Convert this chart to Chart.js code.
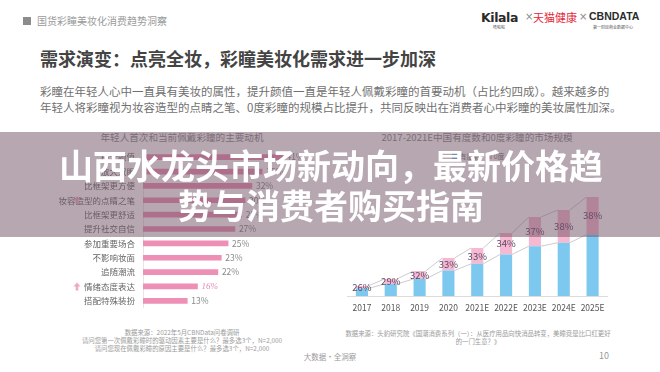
<!DOCTYPE html>
<html>
<head>
<meta charset="utf-8">
<script src="https://cdn.jsdelivr.net/npm/chart.js@4.4.1/dist/chart.umd.min.js"></script>
<style>
  html, body { margin: 0; padding: 0; background: #fff; }
  body { width: 660px; height: 372px; position: relative; overflow: hidden;
         font-family: "Noto Sans CJK SC", "Noto Sans", sans-serif; }
  .abs { position: absolute; white-space: nowrap; }
  #leftWrap { position: absolute; left: 0; top: 150px; width: 320px; height: 158px; }
  #rightWrap { position: absolute; left: 340px; top: 186px; width: 280px; height: 130px; }
  .note { color: #9a9a9a; font-size: 6.4px; line-height: 8px; text-align: center; }
  .times { color: #8a8a8a; font-size: 10px; line-height: 12px; font-family: "DejaVu Sans"; }
  #band { position: absolute; left: 0; top: 132px; width: 660px; height: 105px;
          background: rgba(110, 80, 100, 0.5); }
  #headline { position: absolute; left: 0; top: 145px; width: 662px; text-align: center;
              color: #fff; font-weight: 700; font-size: 34px; line-height: 40px; }
</style>
</head>
<body>

<!-- header -->
<div class="abs" style="left:23px;top:17px;width:8px;height:8px;background:#8c8c8c;"></div>
<div class="abs" style="left:37px;top:14px;font-size:10px;line-height:14px;color:#9a9a9a;">国货彩瞳美妆化消费趋势洞察</div>

<div class="abs" style="left:481px;top:10px;font-size:12.5px;line-height:15px;font-weight:700;color:#2b2b2b;font-family:'DejaVu Sans';letter-spacing:-0.4px;">Kilala</div>
<div class="abs" style="left:493px;top:25px;font-size:4px;line-height:5px;color:#555;">哈啦啦</div>
<div class="abs times" style="left:525px;top:11px;">×</div>
<div class="abs" style="left:533px;top:10px;font-size:11px;line-height:15px;color:#e5283a;">天猫健康</div>
<div class="abs times" style="left:579px;top:11px;">×</div>
<div class="abs" style="left:589px;top:10px;font-size:10.5px;line-height:13px;font-weight:700;color:#2b2b2b;font-family:'Liberation Sans';">CBNDATA</div>
<div class="abs" style="left:593px;top:25px;font-size:4px;line-height:5px;color:#555;">第一财经商业数据中心</div>

<!-- section title + text -->
<div class="abs" style="left:40px;top:47px;font-size:18px;line-height:23px;font-weight:700;color:#444;">需求演变：点亮全妆，彩瞳美妆化需求进一步加深</div>
<div class="abs" style="left:40px;top:84px;font-size:11.5px;line-height:15.5px;color:#707070;">彩瞳在年轻人心中一直具有美妆的属性，提升颜值一直是年轻人佩戴彩瞳的首要动机（占比约四成）。越来越多的<br>年轻人将彩瞳视为妆容造型的点睛之笔、0度彩瞳的规模占比提升，共同反映出在消费者心中彩瞳的美妆属性加深。</div>

<!-- chart titles -->
<div class="abs" style="left:100px;top:131px;width:164px;text-align:center;font-size:9.6px;line-height:13px;color:#8a8a8a;">年轻人首次和当前佩戴彩瞳的主要动机</div>
<div class="abs" style="left:377px;top:131px;width:200px;text-align:center;font-size:9.6px;line-height:13px;color:#8a8a8a;">2017-2021E中国有度数和0度彩瞳的市场规模</div>
<div class="abs" style="left:452px;top:151px;font-size:7px;line-height:10px;color:#777;">
  <span style="display:inline-block;width:6px;height:6px;background:#7cc8ee;"></span> 有度数
  <span style="display:inline-block;width:6px;height:6px;background:#f5b9d1;margin-left:4px;"></span> 0度
</div>

<div id="leftWrap"><canvas id="motiveChart"></canvas></div>
<div id="rightWrap"><canvas id="marketChart"></canvas></div>

<!-- footnotes -->
<div class="abs note" style="left:60px;top:329px;width:244px;">数据来源：2022年5月CBNData问卷调研<br>请问您第一次佩戴彩瞳时的驱动因素主要是什么？最多选3个，N=2,000<br>请问您现在佩戴彩瞳的原因主要是什么？最多选3个，N=2,000</div>
<div class="abs note" style="left:340px;top:330px;width:276px;">数据来源：头豹研究院《国潮消费系列（一）：从医疗用品向快消品转变，美瞳竟是比口红更好<br>的一门生意？》</div>
<div class="abs" style="left:300px;top:351px;width:60px;text-align:center;font-size:7.5px;line-height:11px;color:#999;">大数据·全洞察</div>
<div class="abs" style="left:599px;top:350px;font-size:9px;line-height:12px;color:#999;">10</div>

<!-- overlay title -->
<div id="band"></div>
<div id="headline">山西水龙头市场新动向，最新价格趋<br>势与消费者购买指南</div>

<script>
// Motives (left chart), share of respondents in %
const motiveLabels = ['提升颜值', '放大双眼', '比框架更方便', '妆容造型的点睛之笔', '比框架更舒适',
    '提升社交自信', '参加重要场合', '不影响妆面', '追随潮流', '情绪态度表达', '搭配特殊装扮'];
const motiveValues = [41, 35, 32, 30, 29, 27, 25, 23, 22, 16, 13];
const risingMotives = ['妆容造型的点睛之笔', '情绪态度表达'];
const highlightMotive = '情绪态度表达';

// Market size (right chart)
const years = ['2017', '2018', '2019', '2020', '2021E', '2022E', '2023E', '2024E', '2025E'];
const prescription = [7.4, 12.1, 17, 25.5, 32.2, 41.6, 49.8, 53.3, 61.4];
const zeroDegree = [2.6, 4.9, 8, 12.5, 15.8, 21.4, 29.2, 32.7, 37.6];
const zeroShare = [26, 29, 32, 33, 33, 34, 37, 38, 38];

const CJK = '"Noto Sans CJK SC", "Noto Sans", sans-serif';
Chart.defaults.font.family = CJK;
Chart.defaults.animation = false;

// value labels + up arrows for the motive chart
const motiveDecor = {
    id: 'motiveDecor',
    afterDatasetsDraw(chart) {
        const ctx = chart.ctx;
        const meta = chart.getDatasetMeta(0);
        ctx.save();
        ctx.textBaseline = 'middle';
        ctx.textAlign = 'left';
        meta.data.forEach((bar, i) => {
            if (motiveLabels[i] === highlightMotive) {
                ctx.font = 'italic 9px "Liberation Serif"';
                ctx.fillStyle = '#e58ab2';
            } else {
                ctx.font = '8.5px ' + CJK;
                ctx.fillStyle = '#8a8a8a';
            }
            ctx.fillText(motiveValues[i] + '%', bar.x + 4, bar.y);
        });
        // small up arrows
        const yScale = chart.scales.y;
        ctx.fillStyle = '#f2a7c5';
        risingMotives.forEach(name => {
            const y = yScale.getPixelForValue(motiveLabels.indexOf(name));
            const x = 77;
            ctx.beginPath();
            ctx.moveTo(x, y - 4);
            ctx.lineTo(x + 3.5, y);
            ctx.lineTo(x + 1.3, y);
            ctx.lineTo(x + 1.3, y + 4);
            ctx.lineTo(x - 1.3, y + 4);
            ctx.lineTo(x - 1.3, y);
            ctx.lineTo(x - 3.5, y);
            ctx.closePath();
            ctx.fill();
        });
        ctx.restore();
    }
};

new Chart(document.getElementById('motiveChart'), {
    type: 'bar',
    data: {
        labels: motiveLabels,
        datasets: [{
            data: motiveValues,
            backgroundColor: '#ee8fb6',
            barThickness: 5
        }]
    },
    options: {
        indexAxis: 'y',
        responsive: true,
        maintainAspectRatio: false,
        layout: { padding: 0 },
        plugins: { legend: { display: false }, tooltip: { enabled: false } },
        scales: {
            x: { display: false, min: 0, max: 52 },
            y: {
                grid: { display: false, drawTicks: false },
                border: { display: true, color: '#e6e6e6', width: 1 },
                ticks: { color: '#666', font: { size: 8.5 }, padding: 8 },
                afterFit(scale) {
                    scale.width = 143;
                    scale.paddingTop = 0;
                    scale.paddingBottom = 0;
                }
            }
        }
    },
    plugins: [motiveDecor]
});

// series lines between bar tops + share labels
const marketDecor = {
    id: 'marketDecor',
    afterDatasetsDraw(chart) {
        const ctx = chart.ctx;
        ctx.save();
        ctx.strokeStyle = '#c4bcc2';
        ctx.lineWidth = 0.8;
        [0, 1].forEach(d => {
            const bars = chart.getDatasetMeta(d).data;
            ctx.beginPath();
            for (let j = 0; j < bars.length - 1; j++) {
                const a = bars[j], b = bars[j + 1];
                ctx.moveTo(a.x + a.width / 2, a.y);
                ctx.lineTo(b.x - b.width / 2, b.y);
            }
            ctx.stroke();
        });
        ctx.font = '9.5px ' + CJK;
        ctx.fillStyle = '#5e4866';
        ctx.textAlign = 'center';
        ctx.textBaseline = 'middle';
        chart.getDatasetMeta(1).data.forEach((bar, j) => {
            ctx.fillText(zeroShare[j] + '%', bar.x, (bar.y + bar.base) / 2);
        });
        ctx.restore();
    }
};

new Chart(document.getElementById('marketChart'), {
    type: 'bar',
    data: {
        labels: years,
        datasets: [{
            label: '有度数',
            data: prescription,
            backgroundColor: '#7cc8ee',
            categoryPercentage: 1,
            barPercentage: 0.42
        }, {
            label: '0度',
            data: zeroDegree,
            backgroundColor: '#f5b9d1',
            categoryPercentage: 1,
            barPercentage: 0.42
        }]
    },
    options: {
        responsive: true,
        maintainAspectRatio: false,
        layout: { padding: { left: 7.5, right: 13, top: 0, bottom: 0 } },
        plugins: { legend: { display: false }, tooltip: { enabled: false } },
        scales: {
            x: {
                stacked: true,
                grid: { display: false, drawTicks: false },
                border: { display: true, color: '#dcdcdc', width: 1 },
                ticks: { color: '#555', font: { size: 8.5 }, padding: 7, maxRotation: 0 },
                afterFit(scale) {
                    scale.height = 20;
                    scale.paddingLeft = 0;
                    scale.paddingRight = 0;
                }
            },
            y: { stacked: true, display: false, min: 0, max: 110 }
        }
    },
    plugins: [marketDecor]
});
</script>
</body>
</html>
